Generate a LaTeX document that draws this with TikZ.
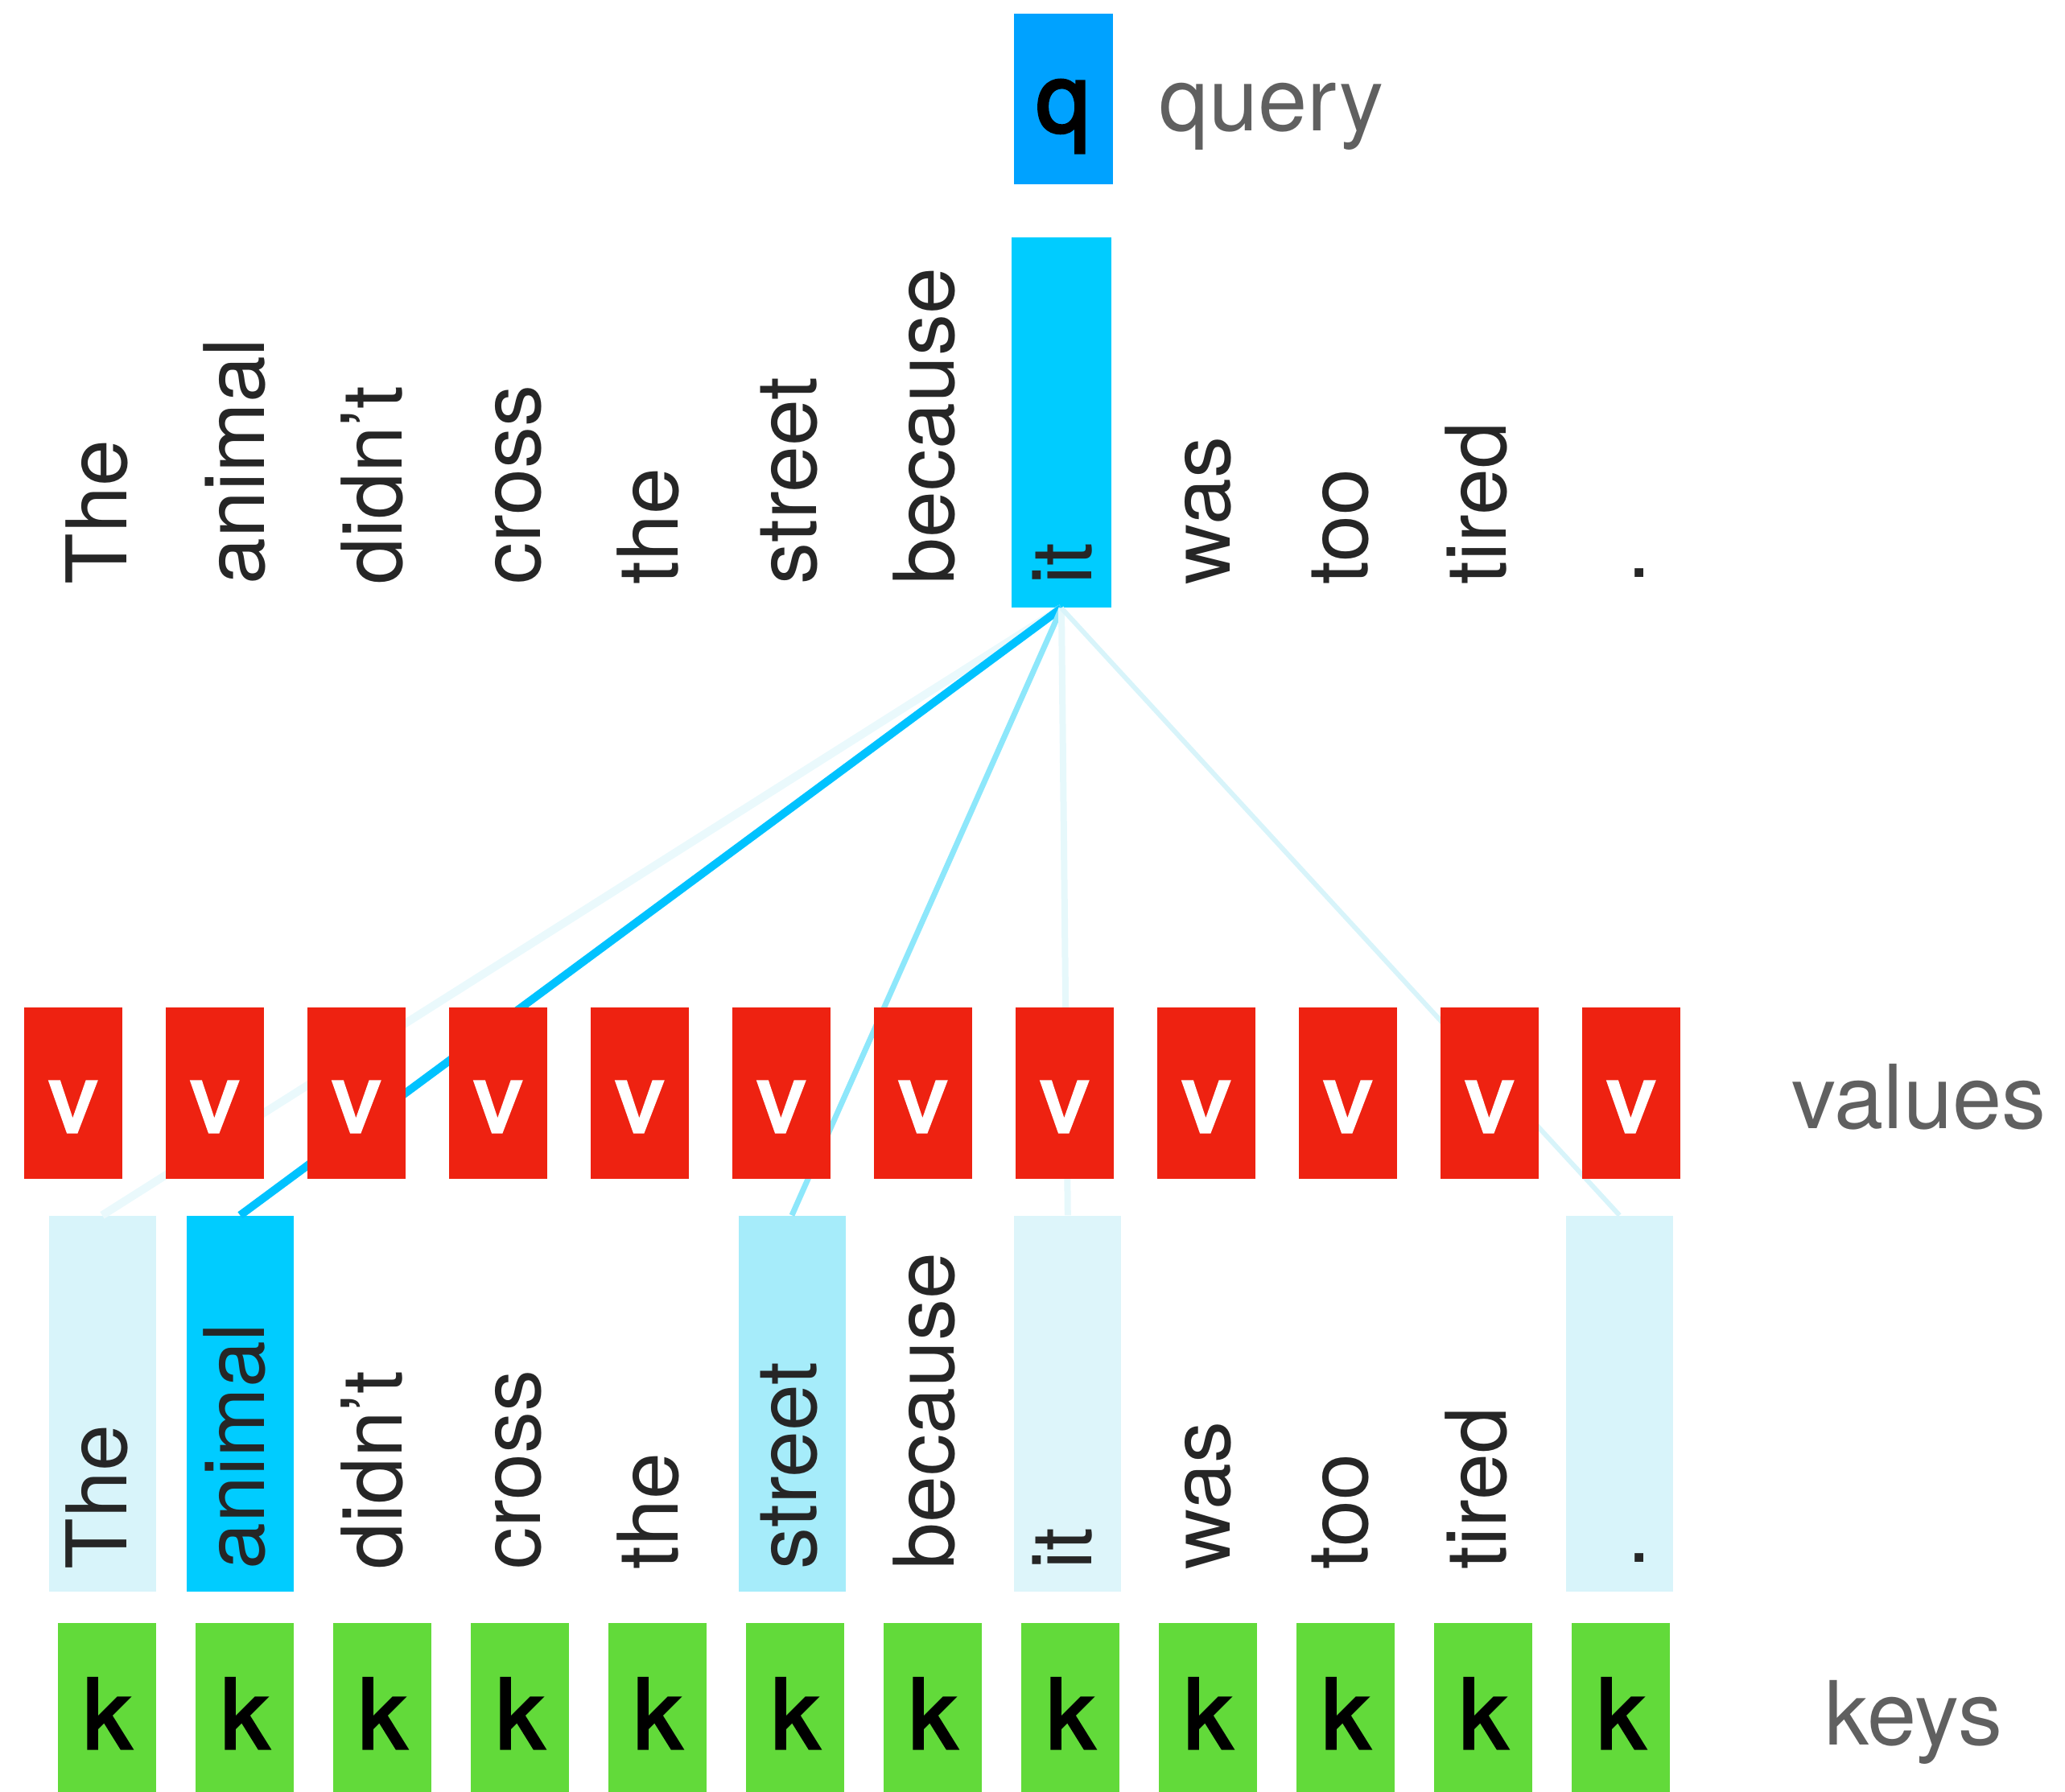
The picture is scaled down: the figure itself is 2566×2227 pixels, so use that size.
\documentclass[tikz,border=0pt]{standalone}
\usepackage{fontspec}
\setmainfont{TeX Gyre Heros}
\newfontfamily\boxfont[FakeBold=3]{TeX Gyre Heros}
\usepackage{tikz}
\usetikzlibrary{positioning}

\definecolor{qblue}{HTML}{00A2FF}
\definecolor{vred}{HTML}{EE2211}
\definecolor{kgreen}{HTML}{62DA3A}
\definecolor{attn}{HTML}{00CCFF}
\definecolor{streetc}{HTML}{A6ECFA}
\definecolor{faintc}{HTML}{D8F4FA}
\definecolor{itc}{HTML}{DDF5FA}
\definecolor{labelgray}{HTML}{606060}

\begin{document}
\begin{tikzpicture}[x=0.1mm,y=-0.1mm,
	word/.style={rotate=90,anchor=base west,inner sep=0pt,text=black!85,font=\fontsize{29.6}{30}\selectfont},
	tag/.style={anchor=base west,inner sep=0pt,text=labelgray,font=\fontsize{31.3}{32}\selectfont},
	hbox/.style={inner sep=0pt,minimum width=13.3mm,minimum height=46.7mm},
	letter/.style={anchor=north,inner sep=0pt,minimum width=12.2mm,font=\fontsize{34}{34}\boxfont}]
	
	\useasboundingbox (0,0) rectangle (2566,2227);
	
	% query word, highlighted
	\node[fill=attn,inner sep=0pt,minimum width=12.4mm,minimum height=46mm] (hit) at (1319,525) {};
	\foreach \w [count=\i from 0] in {The,animal,didn't,cross,the,street,because,it,was,too,tired,.}
		\node[word] (t\i) at ({127+171.4*\i+30},727) {\w};
	
	% attention weights on the keys
	\foreach \i/\c in {0/faintc,1/attn,5/streetc,7/itc,11/faintc}
		\node[hbox,fill=\c] (h\i) at ({127+171.4*\i},1744.5) {};
	\foreach \w [count=\i from 0] in {The,animal,didn't,cross,the,street,because,it,was,too,tired,.}
		\node[word] (b\i) at ({127+171.4*\i+30},1951) {\w};
	
	\draw[line width=1mm,color=faintc!55] (hit.south) -- (h0.north);
	\draw[line width=1mm,color=attn!95!blue] (hit.south) -- (h1.north);
	\draw[line width=0.7mm,color=streetc!85!attn] (hit.south) -- (h5.north);
	\draw[line width=0.8mm,color=itc!75] (hit.south) -- (h7.north);
	\draw[line width=0.6mm,color=faintc] (hit.south) -- (h11.north);
	
	% values and keys
	\foreach \i in {0,...,11}{
		\node[letter,fill=vred,text=white,text height=15.5mm,text depth=5.8mm] (v\i) at ({91+176*\i},1251) {v};
		\node[letter,fill=kgreen,text=black,text height=15.6mm,text depth=5.5mm] (k\i) at ({133+171*\i},2016) {k};
	}
	
	\node[letter,fill=qblue,text=black,minimum width=12.3mm,text height=14.7mm,text depth=6.5mm] (q) at (1321,16) {q};
	
	\node[tag] (lq) at (1440,163) {query};
	\node[tag] (lv) at (2226,1402) {values};
	\node[tag] (lk) at (2267,2168) {keys};
	
\end{tikzpicture}
\end{document}
